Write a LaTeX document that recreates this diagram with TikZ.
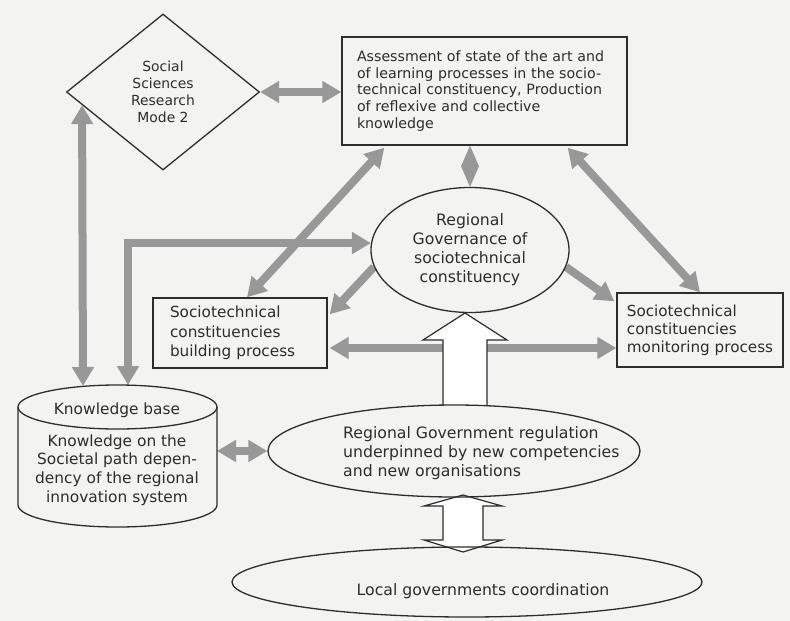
\documentclass[tikz,border=0pt]{standalone}
\usepackage{fontspec}
\setmainfont{DejaVu Sans}
\usetikzlibrary{shapes.geometric,arrows.meta,calc}
\pgfdeclarelayer{bg}
\pgfdeclarelayer{mid}
\pgfsetlayers{bg,mid,main}
\definecolor{paper}{RGB}{243,243,241}
\definecolor{ink}{RGB}{45,45,45}
\definecolor{flow}{RGB}{152,152,152}
\tikzset{
  outline/.style={draw=ink, line width=1.3pt, inner sep=0pt, text=ink},
  box/.style={outline, rectangle},
  oval/.style={outline, ellipse},
  txt/.style={text=ink, inner sep=0pt, font=\fontsize{15.7}{19}\selectfont},
  flowline/.style={draw=flow, line width=8pt, line join=miter},
  flowone/.style={flowline, -{Triangle[width=21pt,length=19pt]}},
  flowboth/.style={flowline, {Triangle[width=21pt,length=19pt]}-{Triangle[width=21pt,length=19pt]}},
  hollow/.style={draw=ink, line width=1.2pt, fill=white, line join=miter},
}
\begin{document}
\begin{tikzpicture}[x=1pt,y=-1pt]
\useasboundingbox (0,0) rectangle (790,621);

% ---- nodes ----
\node[outline, diamond, minimum width=193pt, minimum height=156pt] (dia) at (163,92) {};
\node[txt, align=center, font=\fontsize{13.9}{17}\selectfont] (diatext) at (163,92)
  {Social\\Sciences\\Research\\Mode 2};

\node[box, minimum width=285pt, minimum height=108pt, text width=255pt, align=left,
      font=\fontsize{14.2}{16.7}\selectfont] (assess) at (484.5,91)
  {Assessment of state of the art and\\of learning processes in the socio-\\technical constituency, Production\\of reflexive and collective\\knowledge};

\node[oval, minimum width=198pt, minimum height=125pt, align=center, txt] (gov) at (470,250)
  {Regional\\Governance of\\sociotechnical\\constituency};

\node[box, minimum width=174pt, minimum height=70pt, text width=140pt, align=left, txt,
      font=\fontsize{15.3}{19.5}\selectfont] (build) at (240,333)
  {Sociotechnical\\constituencies\\building process};

\node[box, minimum width=166pt, minimum height=74pt, align=left, txt,
      font=\fontsize{15.2}{18}\selectfont] (mon) at (700,330)
  {Sociotechnical\\constituencies\\monitoring process};

% knowledge base drawn as an upright cylinder
\draw[draw=ink, line width=1.3pt] (18,407) -- (18,505)
  arc[start angle=180, end angle=0, x radius=99.5, y radius=22] -- (217,407);
\draw[draw=ink, line width=1.3pt] (117.5,407) ellipse[x radius=99.5, y radius=22];
\node[txt, font=\fontsize{15.4}{18.7}\selectfont] (kbtitle) at (117,410) {Knowledge base};
\node[txt, align=center, font=\fontsize{15.4}{18.7}\selectfont] (kbtext) at (117,470)
  {Knowledge on the\\Societal path depen-\\dency of the regional\\innovation system};
\coordinate (kbA) at (83,386);
\coordinate (kbB) at (128,385);
\coordinate (kbE) at (217,451);

\node[oval, minimum width=372pt, minimum height=92pt] (reg) at (454,451) {};
\node[txt, align=left, anchor=west] (regtext) at (343,453)
  {Regional Government regulation\\underpinned by new competencies\\and new organisations};

\node[oval, minimum width=470pt, minimum height=70pt] (loc) at (467,582) {};
\node[txt] (loctext) at (483,591) {Local governments coordination};

% ---- grey flow connectors ----
\begin{pgfonlayer}{bg}
  \fill[paper] (0,0) rectangle (790,621);
  \draw[flowboth] (dia.east) -- (dia.east -| assess.west);
  % two arrow heads meeting tip to tail form a small diamond
  \coordinate (dT) at (assess.south -| gov.north);
  \coordinate (dM) at ($(dT)!0.5!(gov.north)$);
  \fill[flow] (dT) -- ($(dM)+(9,0)$) -- (gov.north) -- ($(dM)+(-9,0)$) -- cycle;
  \draw[flowboth] ($(assess.south west)+(43,2)$) -- ($(build.north)+(7,0)$);
  \draw[flowone] (gov.190) -- ($(build.north east)+(2,17)$);
  \draw[flowone] (gov.-10) -- ($(mon.north west)+(-2,9)$);
  \draw[flowboth] ($(assess.south east)+(-60,2)$) -- (mon.north);
  \coordinate (hL) at ($(build.east)+(2,15)$);
  \draw[flowboth] (hL) -- (hL -| mon.west);
  \draw[flowboth] (kbB) |- (gov.176);
  \draw[flowboth] (kbA) -- ($(dia.west)!0.167!(dia.south)$);
  \draw[flowboth] (kbE) -- (reg.west);
\end{pgfonlayer}

% ---- hollow block arrows ----
\begin{pgfonlayer}{mid}
  \draw[hollow] (443,406) -- (443,340) -- (423,340) -- (465,313)
    -- (507,340) -- (487,340) -- (487,406);
  \draw[hollow] (443,506) -- (424,506) -- (463,495) -- (502,506) -- (483,506)
    -- (483,540) -- (502,540) -- (463,552) -- (424,540) -- (443,540) -- cycle;
\end{pgfonlayer}
\end{tikzpicture}
\end{document}
